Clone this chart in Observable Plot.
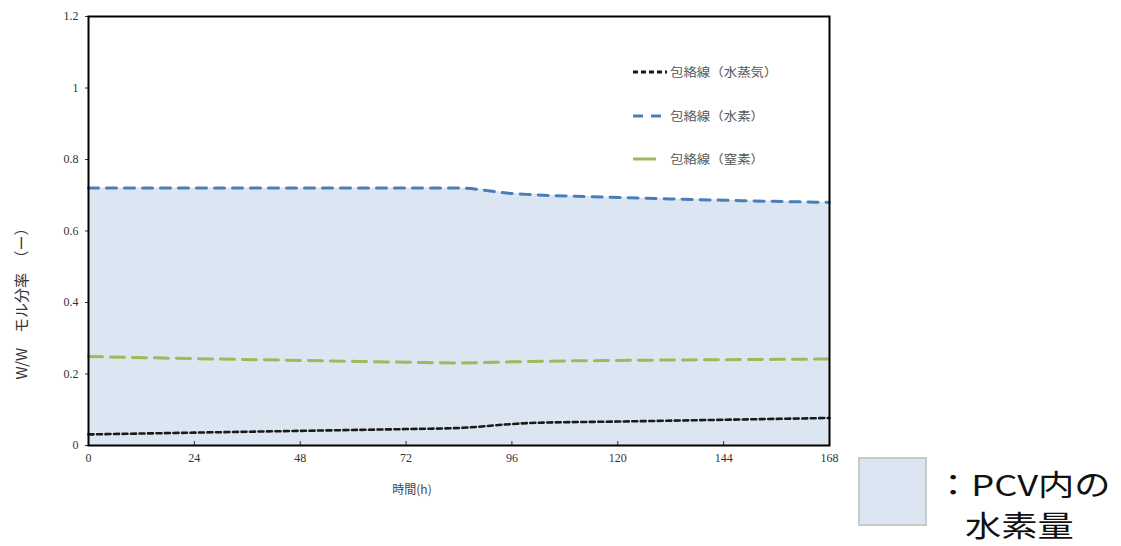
<!DOCTYPE html>
<html><head><meta charset="utf-8">
<script src="https://cdn.jsdelivr.net/npm/d3@7"></script>
<script src="https://cdn.jsdelivr.net/npm/@observablehq/plot@0.6"></script>
<style>
body{margin:0;background:#fff;}
#wrap{position:relative;width:1121px;height:546px;}
</style>
</head><body><div id="wrap"></div>
<script>
const hours      = [0, 24, 48, 72, 84, 96, 100, 120, 144, 168];
const hydrogen   = [0.72, 0.72, 0.72, 0.72, 0.72, 0.705, 0.702, 0.694, 0.686, 0.680];
const nitrogen   = [0.249, 0.243, 0.238, 0.233, 0.231, 0.234, 0.235, 0.238, 0.240, 0.242];
const steam      = [0.031, 0.036, 0.041, 0.046, 0.049, 0.060, 0.063, 0.067, 0.072, 0.077];
const xTicks     = [0, 24, 48, 72, 96, 120, 144, 168];
const yTicks     = [0, 0.2, 0.4, 0.6, 0.8, 1, 1.2];
const seriesNames = ["包絡線（水蒸気）", "包絡線（水素）", "包絡線（窒素）"];
const xLabel = "時間(h)";
const yLabel = "W/W　モル分率　（ー）";
const areaLabel1 = "：PCV内の";
const areaLabel2 = "水素量";

const rows = hours.map((h,i)=>({h, H2: hydrogen[i], N2: nitrogen[i], W: steam[i]}));
const serif = "'Liberation Serif','DejaVu Serif',serif";
const cjk = "'Noto Sans CJK JP','Noto Sans',sans-serif";

const chart = Plot.plot({
  width: 1121, height: 546,
  marginLeft: 88, marginRight: 292, marginTop: 16, marginBottom: 101,
  style: {fontFamily: serif, fontSize: "12px", color: "#333", background: "#fff"},
  x: {domain: [0, 168], ticks: xTicks, tickFormat: d => String(d), label: null},
  y: {domain: [0, 1.2], ticks: yTicks, tickFormat: d => String(d), label: null},
  marks: [
    Plot.areaY(rows, {x: "h", y: "H2", fill: "#dce6f2", curve: "monotone-x"}),
    Plot.line(rows, {x: "h", y: "N2", stroke: "#9bbb59", strokeWidth: 3, strokeDasharray: "14,8", curve: "monotone-x"}),
    Plot.line(rows, {x: "h", y: "H2", stroke: "#4a7ebb", strokeWidth: 3, strokeDasharray: "10,8", curve: "monotone-x"}),
    Plot.line(rows, {x: "h", y: "W", stroke: "#1a1a1a", strokeWidth: 2.6, strokeDasharray: "5,3.5", curve: "monotone-x"}),
    Plot.axisX({ticks: xTicks, tickSize: -4, tickPadding: 12, tickFormat: d => String(d), fontSize: 12}),
    Plot.axisY({ticks: yTicks, tickSize: 3, tickPadding: 7, tickFormat: d => String(d), fontSize: 12}),
    Plot.frame({stroke: "#000", strokeWidth: 2})
  ]
});
document.getElementById("wrap").appendChild(chart);

const svg = d3.select(chart);
// axis titles
svg.append("text").attr("x", 412).attr("y", 494).attr("text-anchor", "middle")
  .attr("font-family", cjk).attr("font-size", 12).attr("fill", "#444").text(xLabel);
svg.append("text").attr("transform", "translate(27,300) rotate(-90)").attr("text-anchor", "middle")
  .attr("font-family", cjk).attr("font-size", 15).attr("fill", "#333").text(yLabel);

// in-plot legend
const leg = [
  {c: "#1a1a1a", d: "5,3", y: 72, x2: 667},
  {c: "#4a7ebb", d: "10,8", y: 116, x2: 667},
  {c: "#9bbb59", d: null, y: 159, x2: 656}
];
leg.forEach((l, i) => {
  const ln = svg.append("line").attr("x1", 633).attr("x2", l.x2).attr("y1", l.y).attr("y2", l.y)
    .attr("stroke", l.c).attr("stroke-width", 3);
  if (l.d) ln.attr("stroke-dasharray", l.d);
  svg.append("text").attr("transform", `translate(670,${l.y + 4.5}) scale(1.12,1)`).attr("text-anchor", "start")
    .attr("font-family", cjk).attr("font-size", 12).attr("fill", "#555").text(seriesNames[i]);
});

// area legend
svg.append("rect").attr("x", 859).attr("y", 458).attr("width", 67).attr("height", 67)
  .attr("fill", "#dce6f2").attr("stroke", "#c9c9c9").attr("stroke-width", 2);
svg.append("text").attr("transform", "translate(935,496) scale(1.25,1)").attr("text-anchor", "start")
  .attr("font-family", cjk).attr("font-size", 29).attr("fill", "#111").text(areaLabel1);
svg.append("text").attr("transform", "translate(965,537) scale(1.25,1)").attr("text-anchor", "start")
  .attr("font-family", cjk).attr("font-size", 29).attr("fill", "#111").text(areaLabel2);
</script>
</body></html>
